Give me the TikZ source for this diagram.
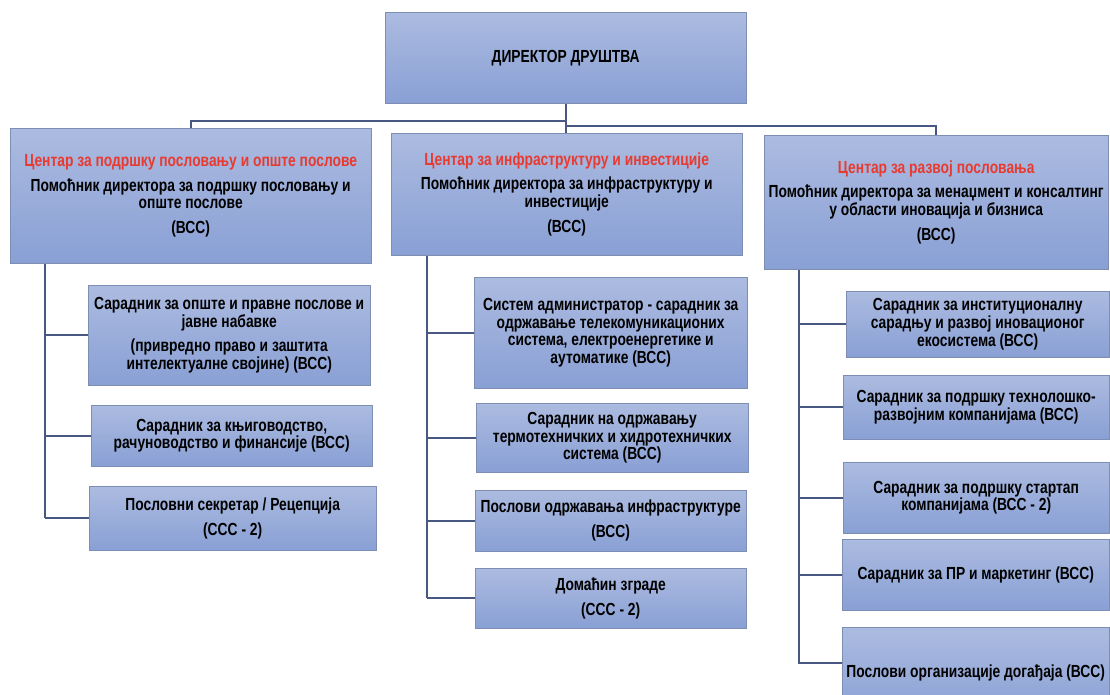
\documentclass[tikz,border=0pt]{standalone}
\usepackage{fontspec}
\setmainfont{Liberation Sans}[FakeStretch=0.79]
\definecolor{btop}{RGB}{172,187,224}
\definecolor{bbot}{RGB}{137,160,213}
\definecolor{bedge}{RGB}{126,142,178}
\definecolor{lnk}{RGB}{72,88,130}
\definecolor{ctr}{RGB}{232,58,48}
\tikzstyle{org chart}=[
    x=1pt, y=-1pt,
    unit/.style={rectangle, draw=bedge, top color=btop, bottom color=bbot, align=center, inner sep=0pt,
        font={\bfseries\fontsize{17.5}{17.8}\selectfont}},
    link/.style={lnk, line width=1.8pt},
]
\pgfdeclarelayer{background}
\pgfsetlayers{background,main}
\newcommand{\orgunit}[6]{ % name, left, top, right, bottom, text
    \pgfmathsetmacro{\w}{#4-#2}
    \pgfmathsetmacro{\h}{#5-#3}
    \node[unit, anchor=north west, minimum width=\w pt, minimum height=\h pt] (#1) at (#2,#3) {#6};
}
\newcommand{\ctrname}[1]{{\color{ctr}#1}}

\begin{document}
\begin{tikzpicture}[org chart]
    \useasboundingbox (0,0) rectangle (1110,694);

    \orgunit{dir}{385}{12}{746}{103}{ДИРЕКТОР ДРУШТВА}

    % centres
    \orgunit{lft}{10}{128}{371}{263}{\ctrname{Центар за подршку пословању и опште послове}\\[7pt]
        Помоћник директора за подршку пословању и\\ опште послове\\[7pt] (ВСС)}
    \orgunit{mid}{391}{133}{742}{255}{\ctrname{Центар за инфраструктуру и инвестиције}\\[7pt]
        Помоћник директора за инфраструктуру и\\ инвестиције\\[7pt] (ВСС)}
    \orgunit{rgt}{764}{135}{1108}{269}{\ctrname{Центар за развој пословања}\\[7pt]
        Помоћник директора за менаџмент и консалтинг\\ у области иновација и бизниса\\[7pt] (ВСС)}

    % left column
    \orgunit{l1}{88}{285}{370}{385}{Сарадник за опште и правне послове и\\ јавне набавке\\[7pt]
        (привредно право и заштита\\ интелектуалне својине) (ВСС)}
    \orgunit{l2}{91}{405}{372}{466}{Сарадник за књиговодство,\\ рачуноводство и финансије (ВСС)}
    \orgunit{l3}{89}{486}{376}{550}{Пословни секретар / Рецепција\\[7pt] (ССС - 2)}

    % middle column
    \orgunit{m1}{474}{277}{747}{388}{Систем администратор - сарадник за\\ одржавање телекомуникационих\\
        система, електроенергетике и\\ аутоматике (ВСС)}
    \orgunit{m2}{476}{403}{748}{472}{Сарадник на одржавању\\ термотехничких и хидротехничких\\ система (ВСС)}
    \orgunit{m3}{475}{490}{746}{551}{Послови одржавања инфраструктуре\\[7pt] (ВСС)}
    \orgunit{m4}{475}{568}{746}{628}{Домаћин зграде\\[7pt] (ССС - 2)}

    % right column
    \orgunit{r1}{846}{291}{1109}{357}{Сарадник за институционалну\\ сарадњу и развој иновационог\\ екосистема (ВСС)}
    \orgunit{r2}{843}{375}{1109}{439}{Сарадник за подршку технолошко-\\ развојним компанијама (ВСС)}
    \orgunit{r3}{843}{462}{1109}{533}{Сарадник за подршку стартап\\ компанијама (ВСС - 2)}
    \orgunit{r4}{842}{539}{1109}{610}{Сарадник за ПР и маркетинг (ВСС)}
    \orgunit{r5}{842}{627}{1109}{719}{Послови организације догађаја (ВСС)}

    \coordinate (lsp) at (45,0);
    \coordinate (msp) at (427,0);
    \coordinate (rsp) at (799,0);
    \coordinate (busl) at (567,121);
    \coordinate (busr) at (567,126);
    \coordinate (r5in) at (842,663);

    \begin{pgfonlayer}{background}
    \draw[link] (dir.south) -- (dir.south |- mid.north);
    \draw[link] (lft.north) |- (busl);
    \draw[link] (rgt.north) |- (busr);

    \draw[link] (lsp |- lft.south) -- (lsp |- l3.west);
    \foreach \n in {l1,l2,l3}
        \draw[link] (lsp |- \n.west) -- (\n.west);

    \draw[link] (msp |- mid.south) -- (msp |- m4.west);
    \foreach \n in {m1,m2,m3,m4}
        \draw[link] (msp |- \n.west) -- (\n.west);

    \draw[link] (rsp |- rgt.south) -- (rsp |- r5in) -- (r5in);
    \foreach \n in {r1,r2,r3,r4}
        \draw[link] (rsp |- \n.west) -- (\n.west);
    \end{pgfonlayer}
\end{tikzpicture}
\end{document}
